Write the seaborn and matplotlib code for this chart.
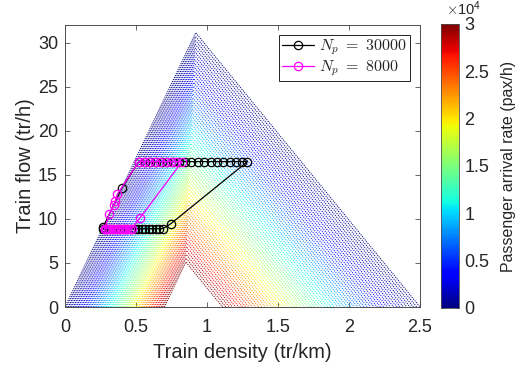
import numpy as np
import pandas as pd
import matplotlib
matplotlib.use("Agg")
import matplotlib.pyplot as plt
import seaborn as sns
from matplotlib.ticker import FuncFormatter
from matplotlib.cm import ScalarMappable
from matplotlib.colors import Normalize

sns.set_theme(style="ticks")
plt.rcParams["font.family"] = ["Liberation Sans", "DejaVu Sans"]
plt.rcParams["mathtext.fontset"] = "cm"
plt.rcParams.update({
    "xtick.direction": "in", "ytick.direction": "in",
    "xtick.top": True, "ytick.right": True,
    "xtick.major.size": 3.5, "ytick.major.size": 3.5,
    "xtick.major.width": 0.6, "ytick.major.width": 0.6,
    "axes.edgecolor": "#4d4d4d", "axes.linewidth": 0.7,
    "xtick.color": "#4d4d4d", "ytick.color": "#4d4d4d",
    "xtick.labelcolor": "#262626", "ytick.labelcolor": "#262626",
})

# Fundamental-diagram family, swept over a crowding level s in [0, 1]
crowding = np.linspace(0, 1, 61)
np_max = 30000         # pax/h at full crowding
rate_exponent = 1.25
v_free = 33.8          # free-flow branch slope (km/h)
w_back = 19.7          # congested branch slope (km/h)
jam_density = 2.5      # tr/km with no passengers
left_shift_max = 0.70  # tr/km, left foot at full crowding
right_shift_max = 1.39 # tr/km, right foot pull-back at full crowding

# Trajectory for N_p = 30000
k_30000 = [0.268, 0.40, 0.52, 0.56, 0.60, 0.64, 0.68, 0.72, 0.76, 0.80, 0.845,
           0.89, 0.935, 0.98, 1.025, 1.07, 1.115, 1.16, 1.205, 1.25, 1.285,
           0.745, 0.69, 0.665, 0.64, 0.615, 0.59, 0.565, 0.54, 0.515, 0.49,
           0.465, 0.44, 0.415, 0.39, 0.365, 0.34, 0.315, 0.29, 0.268]
q_30000 = [9.05, 13.5] + [16.5] * 19 + [9.45] + [8.9] * 18

# Trajectory for N_p = 8000
k_8000 = [0.28, 0.31, 0.345, 0.355, 0.368, 0.52, 0.558, 0.595, 0.633, 0.67,
          0.708, 0.745, 0.783, 0.825, 0.528, 0.47, 0.455, 0.44, 0.425, 0.41,
          0.395, 0.38, 0.365, 0.35, 0.335, 0.32, 0.305, 0.29, 0.28]
q_8000 = [8.9, 10.5, 11.6, 12.0, 12.8] + [16.5] * 9 + [10.1] + [8.9] * 14

colorbar_ticks = [0, 5000, 10000, 15000, 20000, 25000, 30000]

# Build the triangles
arrival_rates = np_max * crowding ** rate_exponent
k_left = left_shift_max * crowding
k_right = jam_density - right_shift_max * crowding
k_apex = (v_free * k_left + w_back * k_right) / (v_free + w_back)
q_apex = v_free * (k_apex - k_left)
fan = pd.DataFrame({
    "Np": np.repeat(arrival_rates, 3),
    "k": np.column_stack([k_left, k_apex, k_right]).ravel(),
    "q": np.column_stack([np.zeros_like(q_apex), q_apex, np.zeros_like(q_apex)]).ravel(),
})

fig = plt.figure(figsize=(5.22, 3.72), dpi=100)
ax = fig.add_axes([65 / 522, 65 / 372, 355 / 522, 282 / 372])
norm = Normalize(0, np_max)
jet = matplotlib.colormaps["jet"]

sns.lineplot(data=fan, x="k", y="q", hue="Np", units="Np", estimator=None,
             sort=False, palette=jet, hue_norm=norm, linestyle=(0, (1, 1.1)),
             linewidth=0.75, legend=False, ax=ax)

series = [
    (r"$N_p\ =\ 30000$", k_30000, q_30000, "black"),
    (r"$N_p\ =\ 8000$", k_8000, q_8000, "#ff00ff"),
]
for label, ks, qs, col in series:
    df = pd.DataFrame({"k": ks, "q": qs})
    sns.lineplot(data=df, x="k", y="q", estimator=None, sort=False,
                 color=col, marker="o", markersize=6, markerfacecolor="none",
                 markeredgecolor=col, markeredgewidth=0.9, linewidth=0.9,
                 label=label, ax=ax)

ax.set_xlim(0, 2.5)
ax.set_ylim(0, 32)
ax.set_xticks([0, 0.5, 1, 1.5, 2, 2.5])
ax.set_xticklabels(["0", "0.5", "1", "1.5", "2", "2.5"])
ax.set_yticks([0, 5, 10, 15, 20, 25, 30])
ax.tick_params(axis="x", labelsize=13, pad=9)
ax.tick_params(axis="y", labelsize=13, pad=5)
ax.set_xlabel("Train density (tr/km)", fontsize=14.5, color="#262626", labelpad=5)
ax.set_ylabel("Train flow (tr/h)", fontsize=14.5, color="#262626", labelpad=2)
for s in ax.spines.values():
    s.set_visible(True)

leg = ax.legend(loc="upper right", fontsize=11.5, frameon=True, fancybox=False,
                edgecolor="black", framealpha=1, handlelength=2.0,
                borderaxespad=0.6, borderpad=0.2, labelspacing=0.05,
                handletextpad=0.3)
leg.get_frame().set_linewidth(0.6)

cax = fig.add_axes([441 / 522, 64 / 372, 18 / 522, 284 / 372])
sm = ScalarMappable(norm=norm, cmap=jet)
cb = fig.colorbar(sm, cax=cax)
cb.set_ticks(colorbar_ticks)
cb.formatter = FuncFormatter(lambda v, _: f"{v / 1e4:g}")
cb.update_ticks()
cb.outline.set_linewidth(0.6)
cb.outline.set_edgecolor("#4d4d4d")
cax.tick_params(labelsize=13, direction="in", length=3, colors="#4d4d4d",
                labelcolor="#262626", right=True, left=True, pad=4)
cax.text(0.3, 1.02, r"$\times\mathregular{10^4}$", transform=cax.transAxes,
         ha="left", va="bottom", fontsize=10.5, color="#262626")
cb.set_label("Passenger arrival rate (pax/h)", fontsize=11.5, color="#262626", labelpad=8)

fig.savefig("out.png", dpi=100)
